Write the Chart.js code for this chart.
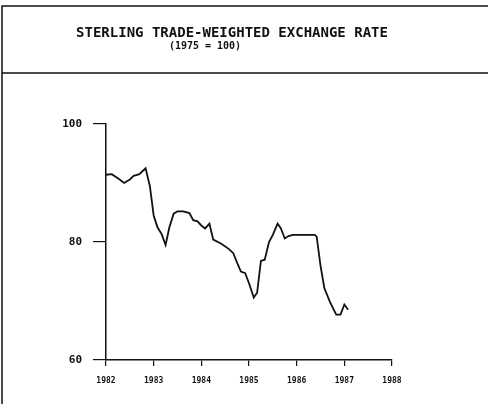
<!DOCTYPE html>
<html>
<head>
<meta charset="utf-8">
<script src="https://cdn.jsdelivr.net/npm/chart.js@4"></script>
<style>
  html, body { margin: 0; padding: 0; background: #fff; }
  #wrap { width: 488px; height: 404px; }
</style>
</head>
<body>
<div id="wrap"><canvas id="myChart" width="488" height="404"></canvas></div>
<script>
// time in decimal years, sterling index (1975 = 100)
var dates = [1982.0, 1982.12, 1982.25, 1982.38, 1982.5, 1982.58, 1982.7, 1982.83, 1982.92,
    1983.0, 1983.08, 1983.17, 1983.25, 1983.33, 1983.42, 1983.5, 1983.62, 1983.75, 1983.83, 1983.92,
    1984.0, 1984.08, 1984.17, 1984.25, 1984.42, 1984.58, 1984.67, 1984.75, 1984.83, 1984.92,
    1985.0, 1985.1, 1985.17, 1985.25, 1985.33, 1985.42, 1985.5, 1985.6, 1985.67, 1985.75, 1985.83, 1985.92,
    1986.08, 1986.25, 1986.38, 1986.42, 1986.5, 1986.58, 1986.7, 1986.83, 1986.92, 1987.0, 1987.08];
var rates = [91.4, 91.5, 90.8, 90.0, 90.6, 91.2, 91.5, 92.5, 89.5,
    84.5, 82.5, 81.3, 79.5, 82.5, 84.8, 85.2, 85.2, 84.9, 83.7, 83.5,
    82.8, 82.3, 83.1, 80.4, 79.7, 78.8, 78.1, 76.5, 75.0, 74.7,
    73.0, 70.6, 71.4, 76.8, 77.0, 80.0, 81.2, 83.1, 82.3, 80.6, 81.0, 81.2,
    81.2, 81.2, 81.2, 80.9, 76.0, 72.2, 69.8, 67.7, 67.7, 69.4, 68.5];
var yearTicks = [1982, 1983, 1984, 1985, 1986, 1987, 1988];
var valueTicks = [60, 80, 100];

var points = dates.map(function (d, i) { return { x: d, y: rates[i] }; });

var frame = {
    id: 'frame',
    beforeDraw: function (chart) {
        var c = chart.ctx;
        c.save();
        c.fillStyle = '#fff';
        c.fillRect(0, 0, chart.width, chart.height);
        c.strokeStyle = '#111';
        c.lineWidth = 1.5;
        c.beginPath();
        c.moveTo(2, 404); c.lineTo(2, 6); c.lineTo(488, 6);
        c.moveTo(2, 73); c.lineTo(488, 73);
        c.stroke();
        c.fillStyle = '#111';
        c.font = 'bold 14px "DejaVu Sans Mono"';
        c.textAlign = 'center';
        c.textBaseline = 'middle';
        c.fillText('STERLING TRADE-WEIGHTED EXCHANGE RATE', 232, 33);
        c.font = 'bold 10px "DejaVu Sans Mono"';
        c.fillText('(1975 = 100)', 205, 46);
        c.restore();
    }
};

var ctx = document.getElementById('myChart').getContext('2d');
var myChart = new Chart(ctx, {
    type: 'line',
    data: {
        datasets: [{
            label: 'Sterling',
            data: points,
            borderColor: '#111',
            borderWidth: 1.8,
            pointRadius: 0,
            tension: 0,
            fill: false
        }]
    },
    options: {
        responsive: false,
        animation: false,
        layout: { padding: { top: 124, right: 96, left: 0, bottom: 0 } },
        plugins: {
            legend: { display: false },
            tooltip: { enabled: false }
        },
        scales: {
            x: {
                type: 'linear',
                min: 1982,
                max: 1988,
                afterBuildTicks: function (s) {
                    s.ticks = yearTicks.map(function (v) { return { value: v }; });
                },
                afterFit: function (s) { s.height = 44; },
                grid: { drawOnChartArea: false, tickLength: 6, color: '#111', lineWidth: 1.2 },
                border: { color: '#111', width: 1.5 },
                ticks: {
                    color: '#111',
                    padding: 10,
                    maxRotation: 0,
                    font: { family: 'DejaVu Sans Mono', size: 8, weight: 'bold' },
                    callback: function (v) { return String(v); }
                }
            },
            y: {
                min: 60,
                max: 100,
                afterBuildTicks: function (s) {
                    s.ticks = valueTicks.map(function (v) { return { value: v }; });
                },
                afterFit: function (s) { s.width = 106; },
                grid: { drawOnChartArea: false, tickLength: 13, color: '#111', lineWidth: 1.2 },
                border: { color: '#111', width: 1.5 },
                ticks: {
                    color: '#111',
                    padding: 11,
                    font: { family: 'DejaVu Sans Mono', size: 11, weight: 'bold' }
                }
            }
        }
    },
    plugins: [frame]
});
</script>
</body>
</html>
